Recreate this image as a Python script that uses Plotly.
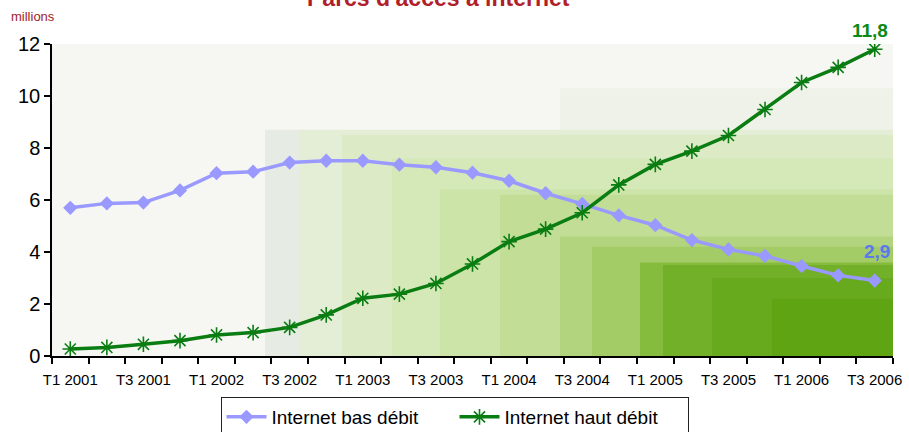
import plotly.graph_objects as go

# Quarterly internet subscriptions in France (millions)
quarters = [f"T{q} {y}" for y in range(2001, 2007) for q in (1, 2, 3, 4)][:23]
tick_labels = ["T1 2001", "T3 2001", "T1 2002", "T3 2002", "T1 2003", "T3 2003",
               "T1 2004", "T3 2004", "T1 2005", "T3 2005", "T1 2006", "T3 2006"]

bas_debit = [5.7, 5.87, 5.9, 6.37, 7.03, 7.09, 7.44, 7.51, 7.51, 7.36, 7.26, 7.05,
             6.74, 6.26, 5.85, 5.41, 5.03, 4.46, 4.10, 3.85, 3.46, 3.1, 2.9]
haut_debit = [0.27, 0.33, 0.45, 0.59, 0.81, 0.90, 1.10, 1.58, 2.22, 2.38, 2.79, 3.54,
              4.40, 4.88, 5.51, 6.58, 7.37, 7.88, 8.48, 9.48, 10.52, 11.1, 11.8]

idx = list(range(len(quarters)))

BLUE = "#9999ff"
GREEN = "#0a7d12"
FONT = "Liberation Sans, Arial, sans-serif"

fig = go.Figure()

fig.add_trace(go.Scatter(
    x=idx, y=bas_debit, name="Internet bas débit", mode="lines+markers",
    line=dict(color=BLUE, width=3.5),
    marker=dict(symbol="diamond", size=11, color=BLUE),
    hovertext=quarters,
))
fig.add_trace(go.Scatter(
    x=idx, y=haut_debit, name="Internet haut débit", mode="lines+markers",
    line=dict(color=GREEN, width=3.5),
    marker=dict(symbol="asterisk-open", size=13, line=dict(color=GREEN, width=1.6)),
    hovertext=quarters,
))

def fr(v):
    return f"{v:.1f}".replace(".", ",")

fig.add_annotation(x=idx[-1], y=haut_debit[-1], text=f"<b>{fr(haut_debit[-1])}</b>",
                   showarrow=False, yshift=19, xshift=-5,
                   font=dict(color="#0a8a14", size=19, family=FONT))
fig.add_annotation(x=idx[-1], y=bas_debit[-1], text=f"<b>{fr(bas_debit[-1])}</b>",
                   showarrow=False, yshift=29, xshift=2,
                   font=dict(color="#5a78f0", size=19, family=FONT))

# Title (partly above the page) and unit label
fig.add_annotation(xref="paper", yref="paper", x=0.46, y=1.0, yshift=46, yanchor="middle",
                   text="<b>Parcs d'accès à internet</b>", showarrow=False,
                   font=dict(color="#b0202a", size=23, family=FONT))
fig.add_annotation(xref="paper", yref="paper", x=-0.051, y=1.0, yshift=28, xanchor="left",
                   yanchor="middle", text="millions", showarrow=False,
                   font=dict(color="#a01c28", size=13, family=FONT))

# Stepped green background, deepening toward the lower right
W = 841.0
def px(v):
    return v / W

bands = [
    (213, 250, 8.7, "#e6ebe4"),
    (248, 841, 8.7, "#e4eed6"),
    (290, 841, 8.5, "#dcebc6"),
    (340, 841, 7.6, "#d5e8b8"),
    (388, 841, 6.4, "#cce4a8"),
    (448, 841, 6.2, "#c2de96"),
    (508, 841, 4.6, "#b3d47e"),
    (540, 841, 4.2, "#a3cb66"),
    (588, 841, 3.6, "#86bc3e"),
    (611, 841, 3.5, "#72b02a"),
    (660, 841, 3.0, "#68aa1e"),
    (720, 841, 2.2, "#5fa412"),
]
shapes = [dict(type="rect", xref="paper", yref="y", x0=px(508), x1=1,
               y0=8.7, y1=10.3, fillcolor="#eef2e8", line=dict(width=0), layer="below")]
for x0, x1, top, col in bands:
    shapes.append(dict(type="rect", xref="paper", yref="y", x0=px(x0), x1=px(x1),
                       y0=0, y1=top, fillcolor=col, line=dict(width=0), layer="below"))

fig.update_layout(
    width=909, height=432,
    margin=dict(l=52, r=16, t=44, b=76),
    paper_bgcolor="white",
    plot_bgcolor="#f6f7f2",
    shapes=shapes,
    showlegend=True,
    legend=dict(orientation="h", xref="container", yref="container",
                x=0.5, xanchor="center", y=0.081, yanchor="top",
                bgcolor="white", bordercolor="#222222", borderwidth=1,
                font=dict(size=19, color="black", family=FONT),
                itemwidth=40, entrywidth=178, tracegroupgap=0),
    xaxis=dict(
        range=[-0.5, 22.5], tickmode="array", tickvals=idx[::2], ticktext=tick_labels,
        ticks="", showgrid=False, zeroline=False, ticklabelstandoff=9, automargin=False,
        showline=True, linecolor="black", linewidth=1.5,
        tickfont=dict(size=15, color="black", family=FONT),
        minor=dict(tickmode="linear", tick0=-0.5, dtick=1, ticks="outside", ticklen=6,
                   tickcolor="black", tickwidth=1.5, showgrid=False),
    ),
    yaxis=dict(
        range=[0, 12], tickvals=[0, 2, 4, 6, 8, 10, 12], ticks="outside", ticklen=6,
        tickcolor="black", tickwidth=1.5, showgrid=False, zeroline=False, automargin=False,
        showline=True, linecolor="black", linewidth=1.5,
        tickfont=dict(size=20, color="black", family=FONT),
    ),
)

fig.write_html("out.html")
